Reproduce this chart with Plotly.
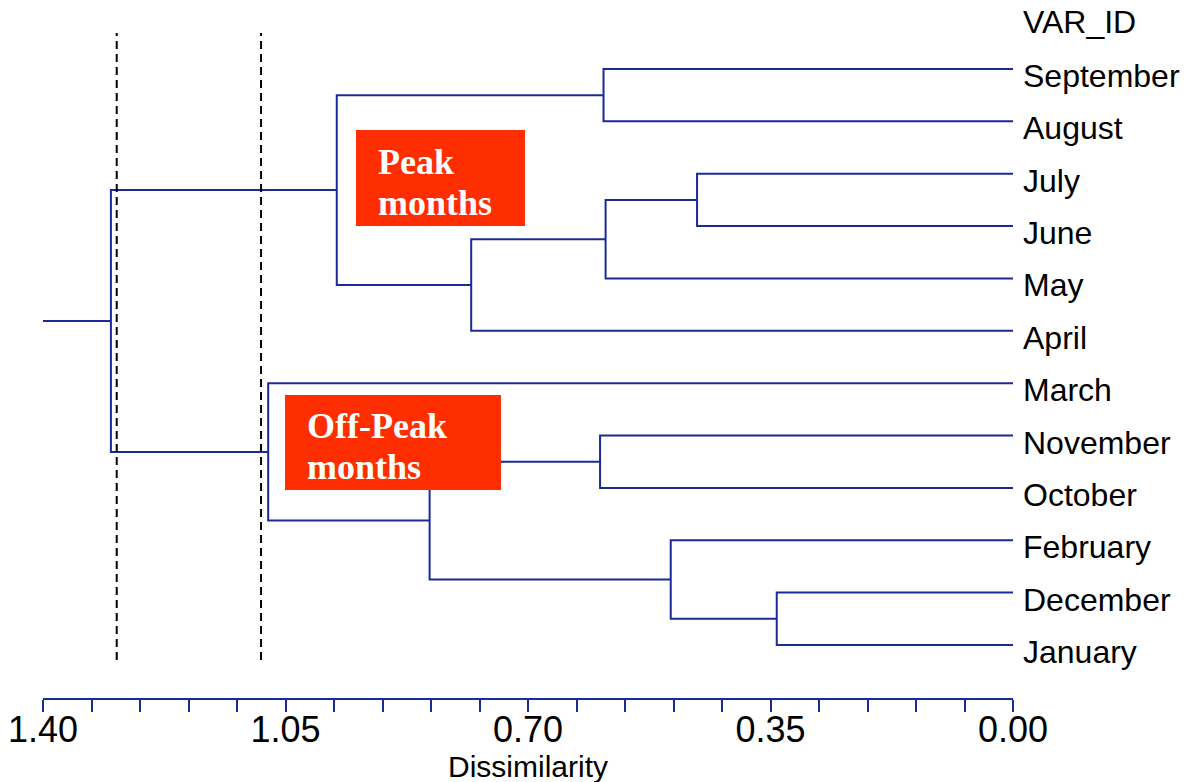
import plotly.graph_objects as go

# ---------------- data ----------------
leaves = ["September", "August", "July", "June", "May", "April",
          "March", "November", "October", "February", "December", "January"]
# linkage: new cluster ids start at len(leaves)
merge_left = [2, 10, 9, 12, 0, 7, 15, 17, 16, 6, 20]
merge_right = [3, 11, 13, 4, 1, 8, 5, 14, 18, 19, 21]
merge_height = [0.456, 0.341, 0.494, 0.588, 0.591, 0.596, 0.782, 0.842, 0.976, 1.075, 1.302]
cut_levels = [1.2936, 1.0853]
axis_max = 1.40
axis_min = 0.00
major_tick = 0.35
minor_tick = 0.07
header_label = "VAR_ID"
axis_title = "Dissimilarity"
group_labels = [["Peak", "months"], ["Off-Peak", "months"]]

# ---------------- style / layout constants ----------------
W, H = 1184, 782
LINE = "#1A2A99"
RED = "#FF2E00"
PX_LEFT, PX_RIGHT = 43, 1013          # x-axis pixel extent
PX_AXIS = 698                          # x-axis line pixel row
PX_LEAF0, PX_LEAF_STEP = 69, 52.36     # leaf rows


def py_to_leaf(py):
    return (py - PX_LEAF0) / PX_LEAF_STEP


def px_paper(px):
    return px / W


def py_paper(py):
    return 1 - py / H


# ---------------- dendrogram geometry ----------------
n = len(leaves)
pos = {i: float(i) for i in range(n)}
hgt = {i: 0.0 for i in range(n)}
xs, ys = [], []
for k, (a, b, h) in enumerate(zip(merge_left, merge_right, merge_height)):
    node = n + k
    xs += [hgt[a], h, h, hgt[b], None]
    ys += [pos[a], pos[a], pos[b], pos[b], None]
    pos[node] = (pos[a] + pos[b]) / 2
    hgt[node] = h
root = n + len(merge_height) - 1
xs += [hgt[root], axis_max, None]
ys += [pos[root], pos[root], None]

fig = go.Figure()
fig.add_trace(go.Scatter(x=xs, y=ys, mode="lines",
                         line=dict(color=LINE, width=2),
                         hoverinfo="skip", showlegend=False))

# cut lines
for c in cut_levels:
    fig.add_shape(type="line", xref="x", yref="paper",
                  x0=c, x1=c, y0=py_paper(660), y1=py_paper(33),
                  line=dict(color="black", width=2, dash="8px,5px"))

# leaf labels
ann = []
for i, name in enumerate(leaves):
    ann.append(dict(x=axis_min, y=i, xref="x", yref="y", text=name,
                    xanchor="left", yanchor="middle", xshift=8, yshift=-7,
                    showarrow=False,
                    font=dict(family="Liberation Sans, Arial", size=32, color="black")))
ann.append(dict(x=axis_min, y=py_to_leaf(22), xref="x", yref="y", text=header_label,
                xanchor="left", yanchor="middle", xshift=8, yshift=0,
                showarrow=False,
                font=dict(family="Liberation Sans, Arial", size=32, color="black")))

# axis title
ann.append(dict(x=px_paper((PX_LEFT + PX_RIGHT) / 2), y=py_paper(766),
                xref="paper", yref="paper", text=axis_title,
                xanchor="center", yanchor="middle", showarrow=False,
                font=dict(family="Liberation Sans, Arial", size=30, color="black")))

# group boxes
boxes = [(356, 525, 130, 226, 376, [162, 203]),
         (285, 501, 395, 490, 305, [426, 467])]
for (x0, x1, y0, y1, tx, tys), lines in zip(boxes, group_labels):
    fig.add_shape(type="rect", xref="paper", yref="paper",
                  x0=px_paper(x0), x1=px_paper(x1), y0=py_paper(y1), y1=py_paper(y0),
                  fillcolor=RED, line=dict(width=0), layer="above")
    for txt, ty in zip(lines, tys):
        ann.append(dict(x=px_paper(tx), y=py_paper(ty), xref="paper", yref="paper",
                        text="<b>%s</b>" % txt, xanchor="left", yanchor="middle",
                        showarrow=False,
                        font=dict(family="Liberation Serif, Times New Roman", size=36,
                                  color="white")))

fig.update_layout(
    width=W, height=H,
    margin=dict(l=0, r=0, t=0, b=0),
    paper_bgcolor="white", plot_bgcolor="white",
    annotations=ann,
    xaxis=dict(
        domain=[PX_LEFT / W, PX_RIGHT / W],
        range=[axis_max, axis_min],
        automargin=False,
        tick0=0, dtick=major_tick, tickformat=".2f",
        ticks="outside", ticklen=12, tickwidth=2, tickcolor=LINE,
        ticklabelstandoff=-13,
        minor=dict(dtick=minor_tick, ticks="outside", ticklen=12,
                   tickwidth=2, tickcolor=LINE, showgrid=False),
        showline=True, linecolor=LINE, linewidth=2,
        showgrid=False, zeroline=False,
        tickfont=dict(family="Liberation Sans, Arial", size=36, color="black"),
    ),
    yaxis=dict(
        domain=[1 - PX_AXIS / H, 1],
        range=[py_to_leaf(PX_AXIS), py_to_leaf(0)],
        automargin=False,
        visible=False,
    ),
)

fig.write_html("out.html")
